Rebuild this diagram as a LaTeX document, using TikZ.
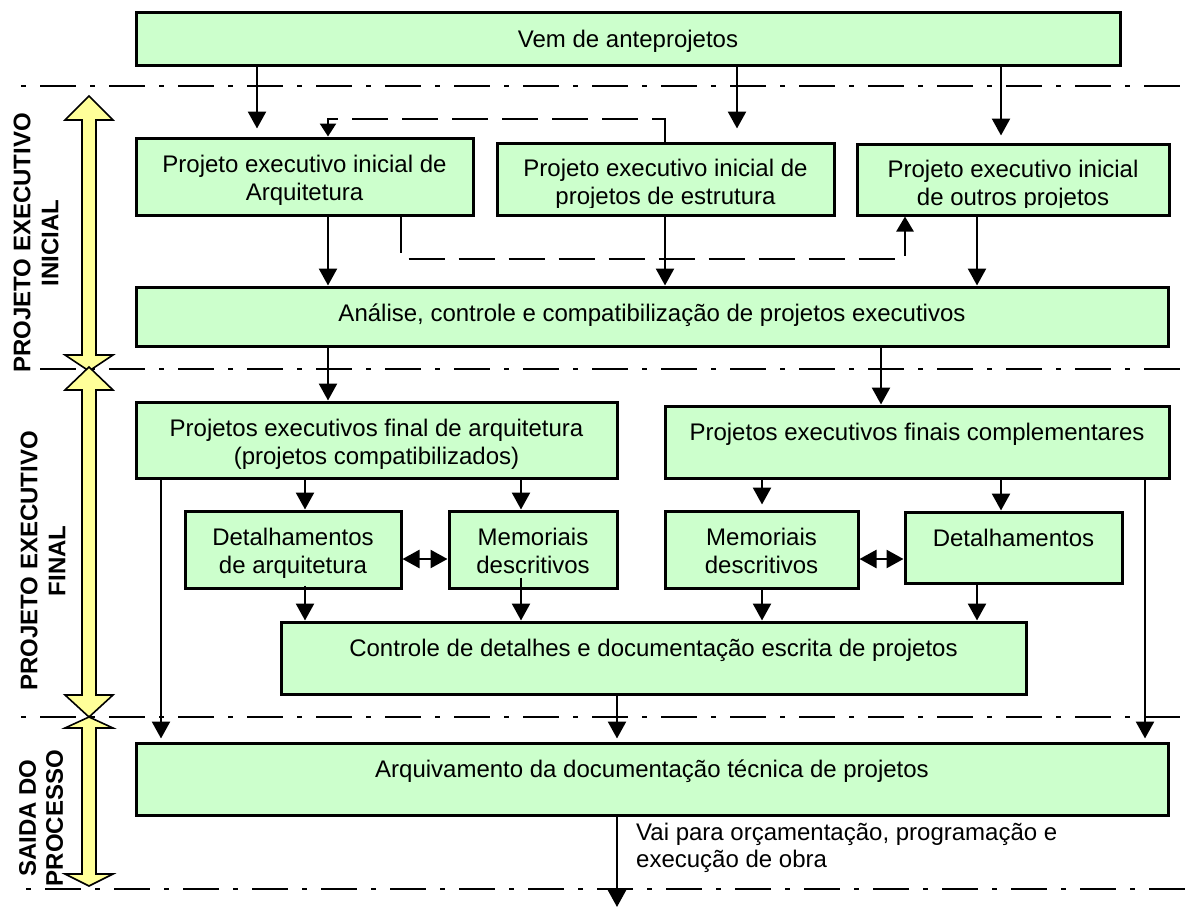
\documentclass[tikz,border=0pt]{standalone}
\usepackage{fontspec}
\setmainfont{Liberation Sans}
\usetikzlibrary{arrows.meta}

\definecolor{boxgreen}{HTML}{CCFFCC}
\definecolor{bandyellow}{HTML}{FFFF99}

% process box: name, x1, y1, x2, y2, text (text hangs from the top edge)
\newcommand\flowbox[6]{%
  \node[box, minimum width={(#4)-(#2)}, minimum height={(#5)-(#3)}] (#1)
    at ({((#2)+(#4))/2},{((#3)+(#5))/2}) {};
  \node[txt] (#1-t) at ([yshift=-14pt]#1.north) {\rule{0pt}{22pt}#6};
}
% same, but the text is cut off just above the bottom edge
\newcommand\flowboxcut[6]{%
  \node[box, minimum width={(#4)-(#2)}, minimum height={(#5)-(#3)}] (#1)
    at ({((#2)+(#4))/2},{((#3)+(#5))/2}) {};
  \begin{scope}
    \clip (#1.north west) rectangle ([yshift=9pt]#1.south east);
    \node[txt] (#1-t) at ([yshift=-13pt]#1.north) {\rule{0pt}{22pt}#6};
  \end{scope}
}
% yellow double-headed phase arrow: x, top tip, bottom tip, top head, bottom head
\newcommand\bandarrow[5]{%
  \filldraw[band] (#1,#2) -- ({#1+24},{#2+#4}) -- ({#1+7},{#2+#4})
    -- ({#1+7},{#3-#5}) -- ({#1+24},{#3-#5}) -- (#1,#3) -- ({#1-24},{#3-#5})
    -- ({#1-7},{#3-#5}) -- ({#1-7},{#2+#4}) -- ({#1-24},{#2+#4}) -- cycle;
}

\begin{document}
\begin{tikzpicture}[x=1pt,y=-1pt,
  box/.style={draw=black, line width=3pt, fill=boxgreen, inner sep=0pt, rectangle},
  txt/.style={font=\fontsize{24}{27.6}\selectfont, align=center, inner sep=0pt, anchor=north},
  arr/.style={line width=2.5pt, -{Triangle[length=17pt,width=18pt]}},
  dsh/.style={line width=2.5pt, dash pattern=on 36pt off 14pt, -{Triangle[length=15pt,width=17pt]}},
  dbl/.style={line width=2.5pt, {Triangle[length=17pt,width=18pt]}-{Triangle[length=17pt,width=18pt]}},
  sep/.style={line width=2.6pt, dash pattern=on 5pt off 14pt on 36pt off 14pt},
  band/.style={draw=black, line width=1.6pt, fill=bandyellow, line join=miter},
  phase/.style={font=\bfseries\fontsize{24}{28}\selectfont, align=center, rotate=90, inner sep=0pt},
]
\useasboundingbox (0,0) rectangle (1186,907);

% phase separators
\draw[sep] (21,86) -- (1186,86);
\draw[sep] (21,369) -- (1186,369);
\draw[sep] (21,717) -- (1186,717);
\draw[sep] (26,889) -- (1186,889);

% phase arrows and labels
\bandarrow{89}{96}{371}{24}{16}
\bandarrow{89}{367}{717}{23}{22}
\bandarrow{89}{717}{886}{11}{12}
\node[phase] (ph1) at (36,243) {PROJETO EXECUTIVO\\INICIAL};
\node[phase] (ph2) at (43,561) {PROJETO EXECUTIVO\\FINAL};
\node[phase, font=\bfseries\fontsize{24}{27}\selectfont] (ph3) at (41,818) {SAIDA DO\\PROCESSO};

% boxes
\flowbox{src}{136}{13}{1120}{66}{Vem de anteprojetos}
\flowbox{arq}{136}{138}{473}{215}{Projeto executivo inicial de\\Arquitetura}
\flowboxcut{est}{497}{143}{834}{215}{Projeto executivo inicial de\\projetos de estrutura}
\flowboxcut{out}{857}{144}{1169}{215}{Projeto executivo inicial\\de outros projetos}
\flowbox{ana}{136}{287}{1168}{346}{An\'alise, controle e compatibiliza\c{c}\~ao de projetos executivos}
\flowbox{farq}{136}{402}{617}{478}{Projetos executivos final de arquitetura\\(projetos compatibilizados)}
\flowbox{fcomp}{665}{406}{1169}{478}{Projetos executivos finais complementares}
\flowbox{detarq}{185}{511}{401}{588}{Detalhamentos\\de arquitetura}
\flowbox{memarq}{449}{511}{617}{588}{Memoriais\\descritivos}
\flowbox{memcomp}{665}{511}{858}{588}{Memoriais\\descritivos}
\flowbox{detcomp}{905}{512}{1122}{583}{Detalhamentos}
\flowbox{ctrl}{281}{622}{1026}{694}{Controle de detalhes e documenta\c{c}\~ao escrita de projetos}
\flowbox{arquiv}{136}{743}{1168}{815}{Arquivamento da documenta\c{c}\~ao t\'ecnica de projetos}

\node[txt, anchor=north west, align=left] (exit) at (636,818)
  {\rule{0pt}{22pt}Vai para or\c{c}amenta\c{c}\~ao, programa\c{c}\~ao e\\execu\c{c}\~ao de obra};

% inputs from the preliminary designs
\draw[arr, shorten >=8pt] (257,0 |- src.south) -- (257,0 |- arq.north);
\draw[arr, shorten >=13pt] (737,0 |- src.south) -- (737,0 |- est.north);
\draw[arr, shorten >=7pt] (1001,0 |- src.south) -- (1001,0 |- out.north);

% feedback between initial designs
\draw[dsh, -{Triangle[length=13pt,width=16pt]}] (665,0 |- est.north) |- (328,119) -- (328,0 |- arq.north);
\draw[dsh] (401,0 |- arq.south) |- (905,259) -- (905,0 |- out.south);

% into the analysis step
\draw[arr] (328,0 |- arq.south) -- (328,0 |- ana.north);
\draw[arr] (665,0 |- est.south) -- (665,0 |- ana.north);
\draw[arr] (977,0 |- out.south) -- (977,0 |- ana.north);

% final designs
\draw[arr] (328,0 |- ana.south) -- (328,0 |- farq.north);
\draw[arr] (881,0 |- ana.south) -- (881,0 |- fcomp.north);
\draw[arr] (305,0 |- farq.south) -- (305,0 |- detarq.north);
\draw[arr] (521,0 |- farq.south) -- (521,0 |- memarq.north);
\draw[arr, shorten >=5pt] (762,0 |- fcomp.south) -- (762,0 |- memcomp.north);
\draw[arr] (1001,0 |- fcomp.south) -- (1001,0 |- detcomp.north);
\draw[dbl] (detarq.east |- 0,559) -- (memarq.west |- 0,559);
\draw[dbl] (memcomp.east |- 0,559) -- (detcomp.west |- 0,559);

% detail control
\draw[arr, shorten <=-4pt] (305,0 |- detarq.south) -- (305,0 |- ctrl.north);
\draw[arr, shorten <=-12pt] (521,0 |- memarq.south) -- (521,0 |- ctrl.north);
\draw[arr] (762,0 |- memcomp.south) -- (762,0 |- ctrl.north);
\draw[arr] (977,0 |- detcomp.south) -- (977,0 |- ctrl.north);

% archiving and exit
\draw[arr, shorten >=3pt] (161,0 |- farq.south) -- (161,0 |- arquiv.north);
\draw[arr, shorten >=3pt] (1145,0 |- fcomp.south) -- (1145,0 |- arquiv.north);
\draw[arr, shorten >=3pt] (617,0 |- ctrl.south) -- (617,0 |- arquiv.north);
\coordinate (end) at (617,907);
\draw[arr] (arquiv.south -| end) -- (end);
\end{tikzpicture}
\end{document}
